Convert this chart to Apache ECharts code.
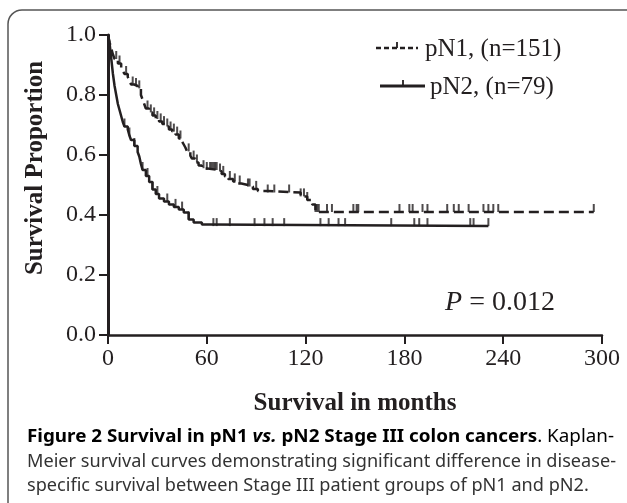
<!DOCTYPE html>
<html><head><meta charset="utf-8">
<script src="https://cdn.jsdelivr.net/npm/echarts@6/dist/echarts.min.js"></script>
<style>html,body{margin:0;padding:0;background:#fff;}#c{width:627px;height:503px;}</style>
</head><body><div id="c"></div>
<script>
// ---- data ----
const pn1Times = [0,1,2,3,4,6,8,9,10,12,13,14,16,18,20,21,22,23,25,27,29,31,33,35,37,39,41,43,45,46,47,48,50,51,53,55,57,59,67,69,71,73,76,78,81,85,88,91,97,117,121,124,126,295];
const pn1Surv  = [1.0,0.975,0.955,0.935,0.92,0.905,0.89,0.88,0.87,0.86,0.85,0.835,0.83,0.822,0.80,0.785,0.77,0.755,0.742,0.732,0.72,0.712,0.703,0.695,0.685,0.678,0.668,0.655,0.645,0.635,0.625,0.612,0.598,0.588,0.575,0.565,0.556,0.55,0.545,0.537,0.528,0.52,0.512,0.505,0.50,0.495,0.487,0.48,0.475,0.462,0.45,0.435,0.41,0.41];
const pn2Times = [0,1,2,3,4,5,6,7,8,9,10,12,13,14,16,18,19,20,21,23,25,27,29,31,34,37,40,43,46,49,52,57,62,231];
const pn2Surv  = [1.0,0.97,0.92,0.87,0.83,0.80,0.77,0.75,0.73,0.71,0.695,0.685,0.665,0.65,0.63,0.61,0.595,0.57,0.55,0.53,0.51,0.485,0.47,0.455,0.445,0.435,0.427,0.418,0.408,0.385,0.375,0.368,0.363,0.363];
const pn1Censor = [5,7,11,15,17,19,24,26,28,30,32,34,36,38,40,42,44,49,52,54,58,60,62,63,64,65,66,68,70,74,77,80,85,86,90,97,101,110,117,119,121,126,127,128,133,136,149,151,152,177,183,185,191,194,206,210,213,219,228,231,234,237,295];
const pn2Censor = [10,13,16,21,24,27,30,36,41,45,49,64,66,74,89,95,100,107,129,134,140,144,172,186,189,194,220,222,231];
const xTicks = [0,60,120,180,240,300];
const yTicks = [0,0.2,0.4,0.6,0.8,1.0];
const seriesNames = ['pN1, (n=151)','pN2, (n=79)'];

function survAt(times, surv, t){
  let v = surv[0];
  for (let i=0;i<times.length;i++){ if (times[i] <= t) v = surv[i]; else break; }
  return v;
}
const pn1Line = pn1Times.map((t,i)=>[t,pn1Surv[i]]);
const pn2Line = pn2Times.map((t,i)=>[t,pn2Surv[i]]);
const pn1Marks = pn1Censor.map(t=>[t,survAt(pn1Times,pn1Surv,t)]);
const pn2Marks = pn2Censor.map(t=>[t,survAt(pn2Times,pn2Surv,t)]);

const INK = '#231f20';
const SERIF = '"Liberation Serif","Times New Roman",serif';
const SANS = '"Noto Sans","Open Sans",sans-serif';

// caption fitting (condensed look via horizontal scale)
const cv = document.createElement('canvas').getContext('2d');
function w(font, txt){ cv.font = font; return cv.measureText(txt).width; }
const CF = 18;
const fB = 'bold '+CF+'px '+SANS, fBI = 'italic bold '+CF+'px '+SANS, fR = CF+'px '+SANS;
const cap1 = [['b','Figure 2 Survival in pN1 '],['bi','vs.'],['b',' pN2 Stage III colon cancers'],['r','. Kaplan-']];
const cap2 = 'Meier survival curves demonstrating significant difference in disease-';
const cap3 = 'specific survival between Stage III patient groups of pN1 and pN2.';
const fontFor = {b:fB, bi:fBI, r:fR};
const w1 = cap1.reduce((a,p)=>a+w(fontFor[p[0]],p[1]),0);
const w2 = w(fR, cap2);
const s1 = 587 / w1, s2 = 589 / w2;

const chart = echarts.init(document.getElementById('c'), null, {renderer:'canvas'});
chart.setOption({
  animation:false,
  backgroundColor:'#fff',
  grid:{left:108, right:25, top:35, bottom:168},
  xAxis:{type:'value', min:0, max:300, interval:60,
    axisLine:{lineStyle:{color:INK, width:2.5}},
    axisTick:{length:9, lineStyle:{color:INK, width:2}},
    axisLabel:{color:INK, fontFamily:SERIF, fontSize:24, margin:12},
    splitLine:{show:false}},
  yAxis:{type:'value', min:0, max:1, interval:0.2,
    axisLine:{show:true, lineStyle:{color:INK, width:3}},
    axisTick:{show:true, length:9, lineStyle:{color:INK, width:2}},
    axisLabel:{color:INK, fontFamily:SERIF, fontSize:24, margin:12, formatter:v=>v.toFixed(1)},
    splitLine:{show:false}},
  series:[
    {name:seriesNames[0], type:'line', step:'end', data:pn1Line, showSymbol:false,
      lineStyle:{color:INK, width:2.5, type:[10,5]}, z:3},
    {name:seriesNames[1], type:'line', step:'end', data:pn2Line, showSymbol:false,
      lineStyle:{color:INK, width:2.5, type:'solid'}, z:3},
    {type:'scatter', data:pn1Marks, symbol:'rect', symbolSize:[2,8], symbolOffset:[0,-4],
      itemStyle:{color:INK}, z:4, silent:true},
    {type:'scatter', data:pn2Marks, symbol:'rect', symbolSize:[2,8], symbolOffset:[0,-4],
      itemStyle:{color:INK}, z:4, silent:true}
  ],
  graphic:[
    {type:'rect', shape:{x:8, y:10, width:660, height:540, r:14}, style:{fill:'none', stroke:'#555', lineWidth:1.5}, z:-1},
    // legend
    {type:'line', shape:{x1:376, y1:48, x2:418, y2:48}, style:{stroke:INK, lineWidth:2.5, lineDash:[5,3]}},
    {type:'line', shape:{x1:397, y1:48, x2:397, y2:42}, style:{stroke:INK, lineWidth:1.8}},
    {type:'text', x:425, y:49, style:{text:seriesNames[0], font:'25px '+SERIF, fill:INK, align:'left', verticalAlign:'middle'}},
    {type:'line', shape:{x1:380, y1:86, x2:425, y2:86}, style:{stroke:INK, lineWidth:3}},
    {type:'line', shape:{x1:403, y1:86, x2:403, y2:80}, style:{stroke:INK, lineWidth:1.8}},
    {type:'text', x:430, y:87, style:{text:seriesNames[1], font:'25px '+SERIF, fill:INK, align:'left', verticalAlign:'middle'}},
    // p-value
    {type:'text', x:500, y:303, style:{text:'{i|P}{n| = 0.012}', align:'center', verticalAlign:'middle',
      rich:{i:{fontFamily:SERIF, fontSize:28, fontStyle:'italic', fill:INK, color:INK}, n:{fontFamily:SERIF, fontSize:28, fill:INK, color:INK}}}},
    // axis titles
    {type:'text', x:36, y:168, rotation:Math.PI/2, style:{text:'Survival Proportion', font:'bold 25px '+SERIF, fill:INK, align:'center', verticalAlign:'middle'}},
    {type:'text', x:355, y:404, style:{text:'Survival in months', font:'bold 25px '+SERIF, fill:INK, align:'center', verticalAlign:'middle'}},
    // caption
    {type:'text', x:27, y:437, scaleX:s1, style:{text:cap1.map(p=>'{'+p[0]+'|'+p[1]+'}').join(''), align:'left', verticalAlign:'middle',
      rich:{b:{fontFamily:SANS, fontSize:CF, fontWeight:'bold', color:'#1a1a1a'},
            bi:{fontFamily:SANS, fontSize:CF, fontWeight:'bold', fontStyle:'italic', color:'#1a1a1a'},
            r:{fontFamily:SANS, fontSize:CF, color:'#333'}}}},
    {type:'text', x:27, y:462, scaleX:s2, style:{text:cap2, font:fR, fill:'#333', align:'left', verticalAlign:'middle'}},
    {type:'text', x:27, y:486, scaleX:s2, style:{text:cap3, font:fR, fill:'#333', align:'left', verticalAlign:'middle'}}
  ]
});
</script>
</body></html>
